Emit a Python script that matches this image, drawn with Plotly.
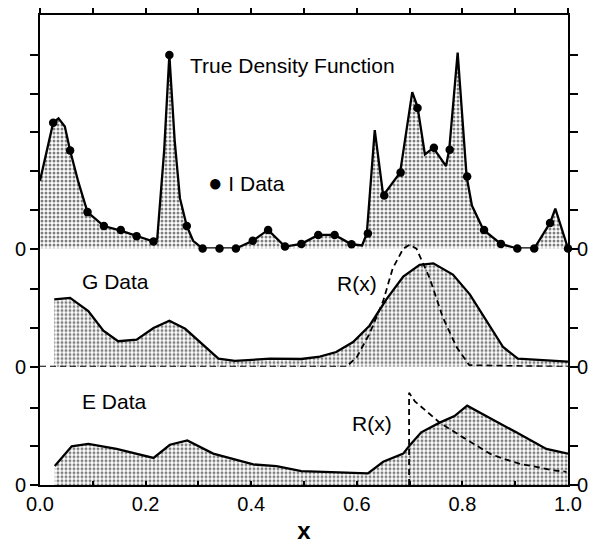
import plotly.graph_objects as go

# ---------------- data ----------------
# True density function (top panel, solid line)
true_x = [0.0, 0.013, 0.025, 0.035, 0.047, 0.057, 0.073, 0.090, 0.121, 0.153, 0.183, 0.215,
          0.222, 0.235, 0.245, 0.255, 0.265, 0.278, 0.290, 0.308, 0.340, 0.371, 0.403, 0.432,
          0.464, 0.495, 0.527, 0.558, 0.590, 0.610, 0.619, 0.634, 0.650, 0.682, 0.705, 0.715,
          0.729, 0.745, 0.769, 0.775, 0.791, 0.808, 0.818, 0.840, 0.873, 0.904, 0.936, 0.966,
          0.976, 1.0]
true_y = [1.75, 2.55, 3.25, 3.36, 3.15, 2.53, 1.70, 0.94, 0.58, 0.46, 0.32, 0.18,
          0.25, 2.50, 5.00, 2.80, 1.30, 0.58, 0.20, 0.0, 0.0, 0.0, 0.20, 0.48,
          0.05, 0.12, 0.35, 0.35, 0.11, 0.08, 0.39, 3.06, 1.37, 1.96, 4.04, 3.66,
          2.43, 2.60, 2.13, 2.55, 5.06, 1.86, 1.11, 0.48, 0.12, 0.0, 0.0, 0.66,
          1.03, 0.0]

# I data (sample points)
i_x = [0.025, 0.057, 0.090, 0.121, 0.153, 0.183, 0.215, 0.245, 0.278, 0.308, 0.340,
       0.371, 0.403, 0.432, 0.464, 0.495, 0.527, 0.558, 0.590, 0.621, 0.652, 0.683,
       0.715, 0.746, 0.776, 0.809, 0.841, 0.873, 0.904, 0.936, 0.966, 1.0]
i_y = [3.25, 2.53, 0.94, 0.58, 0.48, 0.32, 0.18, 5.00, 0.58, 0.0, 0.0,
       0.0, 0.20, 0.48, 0.05, 0.12, 0.35, 0.35, 0.11, 0.39, 1.37, 1.96,
       3.63, 2.60, 2.55, 1.86, 0.48, 0.12, 0.0, 0.0, 0.66, 0.0]

# G data (middle panel)
g_x = [0.027, 0.057, 0.0915, 0.120, 0.148, 0.183, 0.215, 0.245, 0.275, 0.306, 0.338,
       0.369, 0.436, 0.495, 0.530, 0.561, 0.593, 0.624, 0.656, 0.688, 0.719, 0.745,
       0.782, 0.814, 0.845, 0.877, 0.905, 1.0]
g_y = [1.74, 1.78, 1.44, 0.93, 0.66, 0.70, 1.00, 1.19, 0.98, 0.60, 0.21,
       0.15, 0.21, 0.20, 0.26, 0.38, 0.64, 1.06, 1.74, 2.33, 2.63, 2.67,
       2.38, 1.87, 1.19, 0.51, 0.21, 0.13]

# R(x) for G data
rg_x = [0.0, 0.580, 0.600, 0.624, 0.650, 0.668, 0.688, 0.700, 0.713, 0.738, 0.763,
        0.789, 0.813, 1.0]
rg_y = [0.0, 0.0, 0.25, 0.85, 1.70, 2.54, 3.05, 3.15, 3.05, 2.29, 1.27,
        0.51, 0.04, 0.0]

# E data (bottom panel)
e_x = [0.028, 0.060, 0.0915, 0.145, 0.215, 0.246, 0.279, 0.328, 0.404, 0.448, 0.495,
       0.621, 0.650, 0.688, 0.700, 0.722, 0.757, 0.785, 0.809, 0.852, 0.902, 0.959, 1.0]
e_y = [0.49, 1.00, 1.06, 0.93, 0.70, 1.04, 1.15, 0.81, 0.53, 0.49, 0.36,
       0.30, 0.60, 0.81, 1.02, 1.36, 1.61, 1.78, 2.05, 1.74, 1.36, 0.93, 0.81]

# R(x) for E data
re_x = [0.699, 0.699, 0.710, 0.735, 0.757, 0.801, 0.826, 0.852, 0.877, 0.908, 0.940, 0.972, 0.997]
re_y = [0.0, 2.38, 2.16, 1.87, 1.61, 1.23, 1.02, 0.81, 0.68, 0.55, 0.47, 0.38, 0.34]

x_ticks = [0.0, 0.2, 0.4, 0.6, 0.8, 1.0]
x_tick_labels = ["0.0", "0.2", "0.4", "0.6", "0.8", "1.0"]

# ---------------- layout geometry ----------------
W, H = 606, 550
ML, MR, MT, MB = 40, 38, 10, 63
PH = H - MT - MB            # 477
unit = 39.3                 # px per y unit
small_h = 120               # px height of middle / bottom panels
d1 = small_h / PH
d2 = 2 * small_h / PH
bot_rng = small_h / unit
top_rng = (PH - 2 * small_h) / unit
r_dom_top = 0.56
r_rng = (r_dom_top - d1) * PH / unit

pattern = dict(shape=".", fgcolor="#000000", bgcolor="#ffffff", size=4, solidity=0.45)
FONT = "Liberation Sans, Arial, Helvetica, sans-serif"
LW = 2.3

fig = go.Figure()

# top panel
fig.add_trace(go.Scatter(x=true_x, y=true_y, xaxis="x", yaxis="y3", mode="lines",
                         line=dict(color="black", width=LW), fill="tozeroy",
                         fillpattern=pattern, fillcolor="white", showlegend=False))
fig.add_trace(go.Scatter(x=i_x, y=i_y, xaxis="x", yaxis="y3", mode="markers",
                         marker=dict(color="black", size=8.5), showlegend=False, cliponaxis=False))
# middle panel
fig.add_trace(go.Scatter(x=g_x, y=g_y, xaxis="x", yaxis="y2", mode="lines",
                         line=dict(color="black", width=LW), fill="tozeroy",
                         fillpattern=pattern, fillcolor="white", showlegend=False))
fig.add_trace(go.Scatter(x=rg_x, y=rg_y, xaxis="x", yaxis="y7", mode="lines",
                         line=dict(color="black", width=1.8, dash="6px,4px"), showlegend=False))
# bottom panel
fig.add_trace(go.Scatter(x=e_x, y=e_y, xaxis="x", yaxis="y", mode="lines",
                         line=dict(color="black", width=LW), fill="tozeroy",
                         fillpattern=pattern, fillcolor="white", showlegend=False))
fig.add_trace(go.Scatter(x=re_x, y=re_y, xaxis="x", yaxis="y", mode="lines",
                         line=dict(color="black", width=1.8, dash="6px,4px"), showlegend=False))

common_y = dict(showline=True, linecolor="black", linewidth=2, ticks="outside",
                ticklen=8, tickwidth=2, tickcolor="black", mirror="ticks",
                showgrid=False, zeroline=False, anchor="x",
                tickfont=dict(size=20, color="black", family=FONT), fixedrange=True)
right_y = dict(side="right", showline=False, ticks="", showgrid=False, zeroline=False,
               anchor="x", tickvals=[0], ticktext=["0"], ticklabelstandoff=8,
               tickfont=dict(size=20, color="black", family=FONT))

fig.update_layout(
    width=W, height=H,
    margin=dict(l=ML, r=MR, t=MT, b=MB),
    paper_bgcolor="white", plot_bgcolor="rgba(0,0,0,0)",
    font=dict(family=FONT, color="black"),
    xaxis=dict(domain=[0, 1], range=[0, 1], anchor="y", showline=True, linecolor="black",
               linewidth=2, ticks="inside", ticklen=4, tickwidth=2, tickcolor="black",
               tickvals=x_ticks, ticktext=x_tick_labels, showgrid=False, zeroline=False,
               minor=dict(dtick=0.1, ticks="inside", ticklen=4, tickwidth=1.5, tickcolor="black"),
               tickfont=dict(size=20, color="black", family=FONT),
               title=dict(text="<b>x</b>", font=dict(size=24, color="black", family=FONT), standoff=8)),
    xaxis2=dict(domain=[0, 1], range=[0, 1], anchor="y3", side="top", overlaying="x",
                showline=True, linecolor="black", linewidth=2, ticks="outside", ticklen=5,
                tickwidth=1.5, tickcolor="black", dtick=0.1, tick0=0, showticklabels=False,
                showgrid=False, zeroline=False),
    yaxis=dict(domain=[0, d1], range=[0, bot_rng], tickvals=[0, 1, 2], ticktext=["0", "", ""], **common_y),
    yaxis2=dict(domain=[d1, d2], range=[0, bot_rng], tickvals=[0, 1, 2], ticktext=["0", "", ""], **common_y),
    yaxis3=dict(domain=[d2, 1], range=[0, top_rng], tickvals=[0, 1, 2, 3, 4, 5],
                ticktext=["0", "", "", "", "", ""], **common_y),
    yaxis4=dict(overlaying="y", range=[0, bot_rng], **right_y),
    yaxis5=dict(overlaying="y2", range=[0, bot_rng], **right_y),
    yaxis6=dict(overlaying="y3", range=[0, top_rng], **right_y),
    yaxis7=dict(domain=[d1, r_dom_top], range=[0, r_rng], anchor="x", visible=False),
)

# invisible helper traces so the right-side label axes and top axis render
for ax in ("y4", "y5", "y6"):
    fig.add_trace(go.Scatter(x=[0.5], y=[0], xaxis="x", yaxis=ax, mode="markers",
                             marker=dict(opacity=0), showlegend=False, hoverinfo="skip"))
fig.add_trace(go.Scatter(x=[0.5], y=[0], xaxis="x2", yaxis="y3", mode="markers",
                         marker=dict(opacity=0), showlegend=False, hoverinfo="skip"))

lab = dict(size=21, color="black", family=FONT)
fig.add_annotation(x=(188 - ML) / 528, y=(247 - 61) / unit, xref="x", yref="y3", text="True Density Function",
                   showarrow=False, xanchor="left", yanchor="middle", font=lab)
fig.add_annotation(x=(206 - ML) / 528, y=(247 - 180) / unit, xref="x", yref="y3",
                   text="<span style='font-size:24px'>●</span> I Data",
                   showarrow=False, xanchor="left", yanchor="middle", font=lab)
fig.add_annotation(x=(80 - ML) / 528, y=(366.7 - 280) / unit, xref="x", yref="y2", text="G Data",
                   showarrow=False, xanchor="left", yanchor="middle", font=lab)
fig.add_annotation(x=(335 - ML) / 528, y=(366.7 - 282) / unit, xref="x", yref="y2", text="R(x)",
                   showarrow=False, xanchor="left", yanchor="middle", font=lab)
fig.add_annotation(x=(80 - ML) / 528, y=(486.7 - 402) / unit, xref="x", yref="y", text="E Data",
                   showarrow=False, xanchor="left", yanchor="middle", font=lab)
fig.add_annotation(x=(350 - ML) / 528, y=(486.7 - 424) / unit, xref="x", yref="y", text="R(x)",
                   showarrow=False, xanchor="left", yanchor="middle", font=lab)

fig.write_html("out.html")
